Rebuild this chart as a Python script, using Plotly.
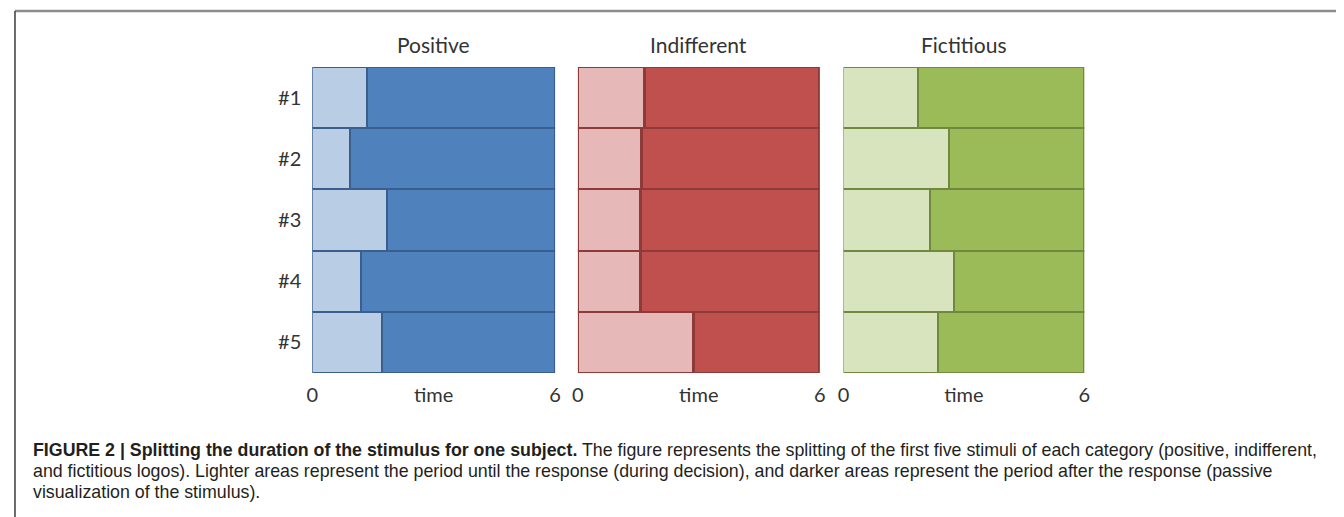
import plotly.graph_objects as go

OFF = 8  # browser body margin
W, H = 1344 - OFF, 517 - OFF

stimuli = ["#1", "#2", "#3", "#4", "#5"]
categories = ["Positive", "Indifferent", "Fictitious"]
total_time = 6
# time until response (lighter part) for each stimulus
decision_positive = [1.35, 0.93, 1.86, 1.20, 1.74]
decision_indifferent = [1.65, 1.60, 1.56, 1.56, 2.89]
decision_fictitious = [1.88, 2.64, 2.17, 2.77, 2.37]
decisions = [decision_positive, decision_indifferent, decision_fictitious]

light_colors = ["#B9CDE5", "#E6B9B8", "#D7E4BD"]
dark_colors = ["#4F81BD", "#C0504D", "#9BBB59"]
edge_colors = ["#3A5F8E", "#8E3A38", "#71893F"]


def px(x):
    return (x - OFF) / W


def py(y):
    return 1 - (y - OFF) / H


# panel pixel extents (reference coordinates)
panels_px = [(309, 554), (577, 821), (845, 1088)]
top_px, bot_px = 67, 373

fig = go.Figure()
label_font = dict(family="Lato, 'Open Sans', sans-serif", size=20, color="#333333")

for i, cat in enumerate(categories):
    sfx = "" if i == 0 else str(i + 1)
    light = decisions[i]
    dark = [total_time - v for v in light]
    fig.add_trace(go.Bar(
        y=stimuli, x=light, orientation="h", width=1,
        marker=dict(color=light_colors[i], line=dict(color=edge_colors[i], width=2.5)),
        xaxis="x" + sfx, yaxis="y" + sfx, showlegend=False, hoverinfo="skip"))
    fig.add_trace(go.Bar(
        y=stimuli, x=dark, orientation="h", width=1,
        marker=dict(color=dark_colors[i], line=dict(color=edge_colors[i], width=2.5)),
        xaxis="x" + sfx, yaxis="y" + sfx, showlegend=False, hoverinfo="skip"))
    x0, x1 = panels_px[i]
    fig.layout["xaxis" + sfx] = dict(
        domain=[px(x0), px(x1)], range=[0, total_time], anchor="y" + sfx,
        tickvals=[0, total_time / 2, total_time], ticktext=["0", "time", str(total_time)],
        showgrid=False, zeroline=False, showline=False, ticks="",
        tickfont=label_font, ticklabelstandoff=8, fixedrange=True)
    fig.layout["yaxis" + sfx] = dict(
        domain=[py(bot_px), py(top_px)], anchor="x" + sfx,
        autorange="reversed", showgrid=False, zeroline=False, showline=False,
        ticks="", showticklabels=(i == 0), tickfont=label_font,
        ticklabelstandoff=10, fixedrange=True)
    fig.add_annotation(
        text=cat, xref="x" + sfx + " domain", yref="paper",
        x=0.5, y=py(44), xanchor="center", yanchor="middle",
        showarrow=False, font=dict(family="Lato, 'Open Sans', sans-serif", size=21, color="#333333"))

# caption
cap_font = dict(family="'Liberation Sans', Arial, sans-serif", size=17.8, color="#231F20")
caption_lines = [
    "<b>FIGURE 2 | Splitting the duration of the stimulus for one subject.</b> The figure represents the splitting of the first five stimuli of each category (positive, indifferent,",
    "and fictitious logos). Lighter areas represent the period until the response (during decision), and darker areas represent the period after the response (passive",
    "visualization of the stimulus).",
]
for k, line in enumerate(caption_lines):
    fig.add_annotation(
        text=line, xref="paper", yref="paper", x=px(25), y=py(450 + 21 * k),
        xanchor="left", yanchor="middle", showarrow=False, font=cap_font, align="left")

# frame lines
fig.add_shape(type="line", xref="paper", yref="paper", x0=px(9), x1=1, y0=py(11), y1=py(11),
              line=dict(color="#8C8C8C", width=2.5))
fig.add_shape(type="line", xref="paper", yref="paper", x0=px(9), x1=px(9), y0=py(11), y1=0,
              line=dict(color="#3C3C3C", width=1.5))

fig.update_layout(
    barmode="stack", width=W, height=H,
    margin=dict(l=0, r=0, t=0, b=0),
    paper_bgcolor="white", plot_bgcolor="white",
    bargap=0,
)

fig.write_html("out.html")
